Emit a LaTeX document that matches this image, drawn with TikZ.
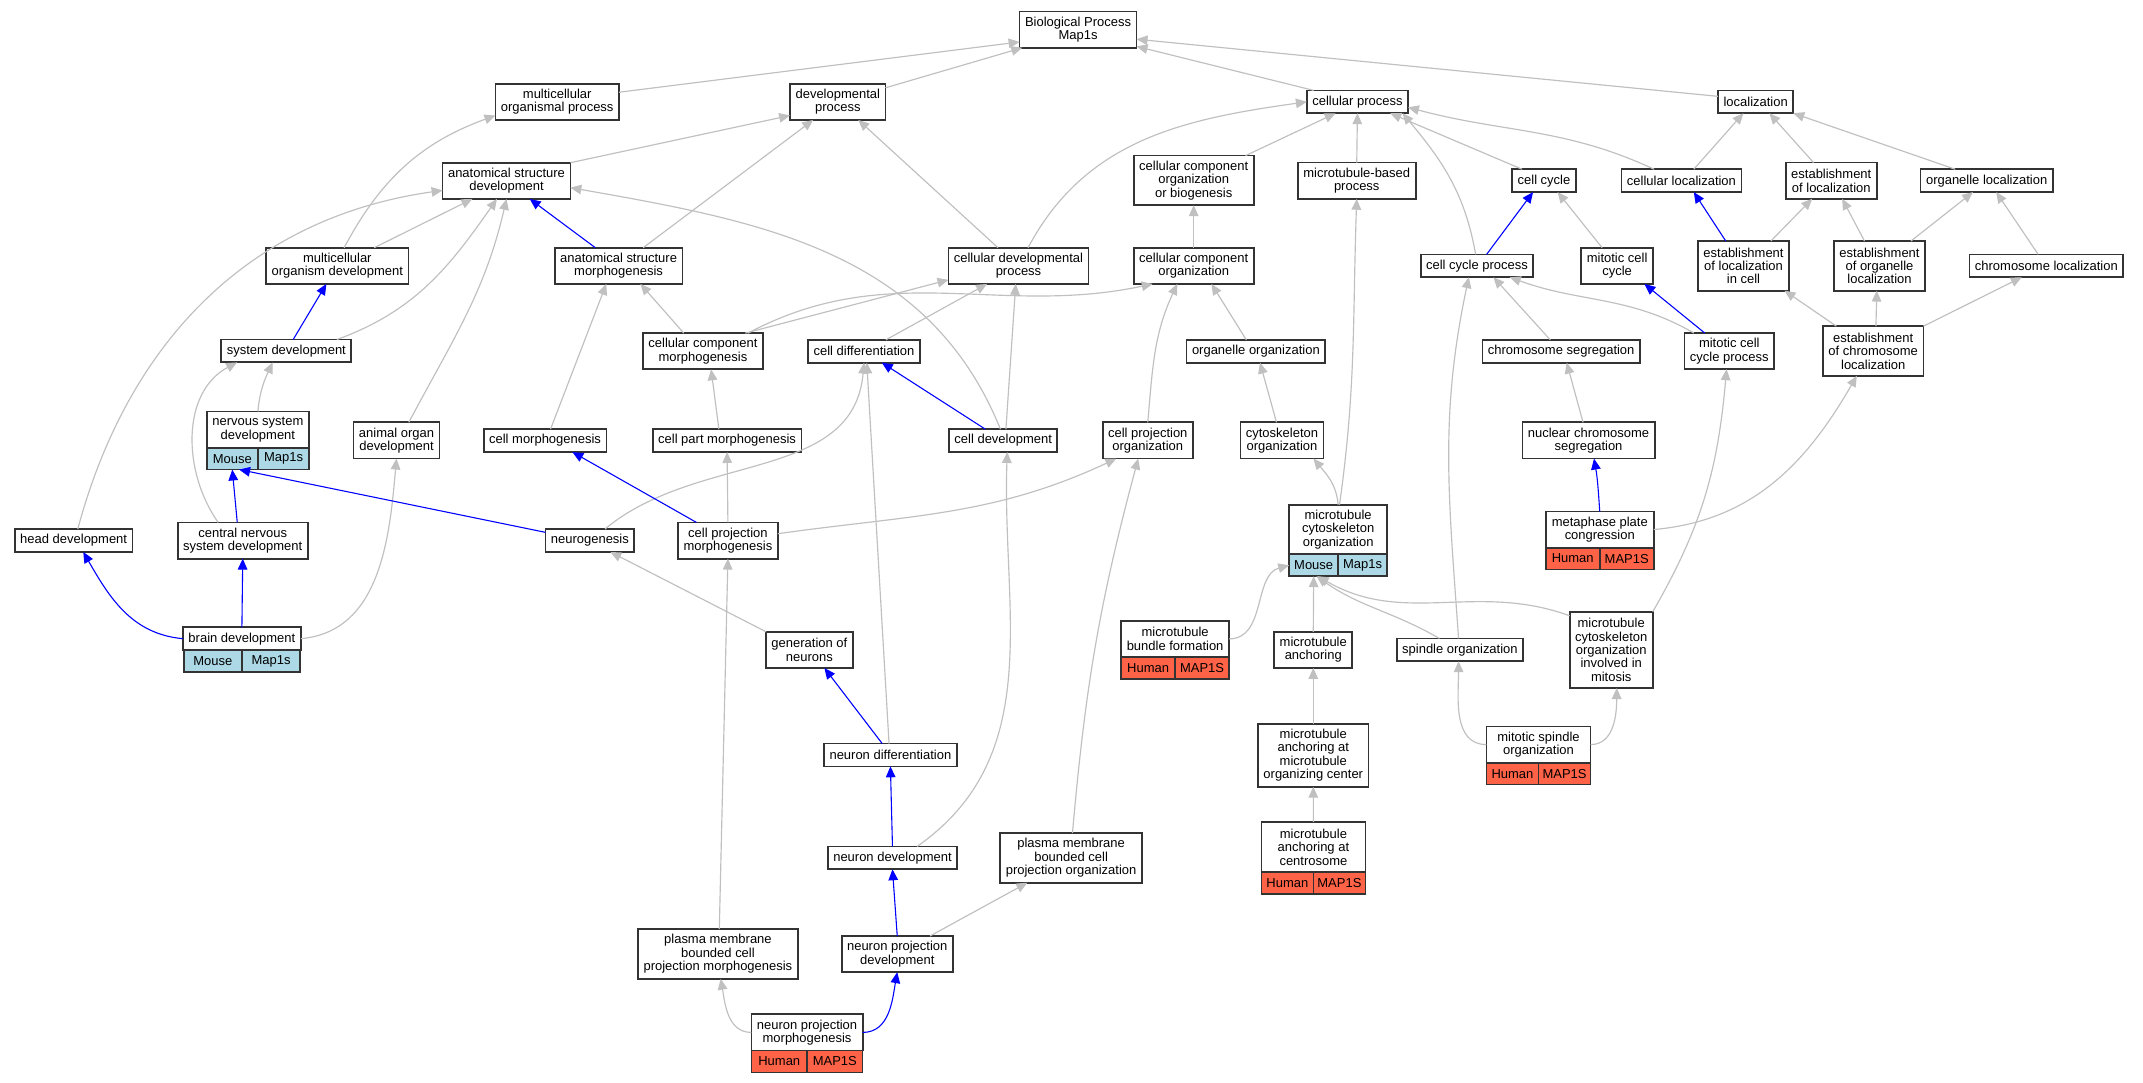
\documentclass[tikz,border=0pt]{standalone}
\usepackage{fontspec}
\setmainfont{Liberation Sans}
\usetikzlibrary{arrows.meta}
\definecolor{edgegray}{HTML}{C0C0C0}
\definecolor{genemouse}{HTML}{ADD8E6}
\definecolor{genehuman}{HTML}{FF6347}

\begin{document}
\begin{tikzpicture}[x=1pt, y=1pt,
  term/.style={draw=black!80, line width=1.3pt, fill=white, align=center, outer sep=0pt,
    font=\fontsize{9.5}{9.8}\selectfont, inner xsep=4pt, inner ysep=1pt},
  l1/.style={minimum height=16.7pt}, l2/.style={minimum height=26.5pt},
  l3/.style={minimum height=36.3pt}, l4/.style={minimum height=46.1pt},
  l5/.style={minimum height=55.9pt},
  cell/.style={term, minimum height=16pt, inner sep=0pt},
  mouse/.style={cell, fill=genemouse}, human/.style={cell, fill=genehuman},
  isa/.style={draw=edgegray, line width=0.85pt, -{Triangle[length=8pt,width=7pt]}},
  isab/.style={isa, draw=blue, line width=0.8pt}]
\fill[white] (0,0) rectangle (1568,-792);

% Top terms
\node[term, l2] (BP) at (788.8,-21.7) {Biological Process\\Map1s};
\node[term, l2] (mop) at (407.7,-74.5) {multicellular\\organismal process};
\node[term, l2] (devp) at (613,-74.5) {developmental\\process};
\node[term, l1] (cellp) at (993.2,-74.5) {cellular process};
\node[term, l1] (loc) at (1284.6,-74.5) {localization};

% Second level
\node[term, l2] (asd) at (370.6,-132.3) {anatomical structure\\development};
\node[term, l3] (ccob) at (873.4,-132) {cellular component\\organization\\or biogenesis};
\node[term, l2] (mtbp) at (992.7,-132.2) {microtubule-based\\process};
\node[term, l1] (cc) at (1129.7,-132.2) {cell cycle};
\node[term, l1] (cloc) at (1230.3,-132.2) {cellular localization};
\node[term, l2] (eloc) at (1339.9,-132.2) {establishment\\of localization};
\node[term, l1] (oloc) at (1453.6,-132.2) {organelle localization};

% Third level
\node[term, l2] (modev) at (246.8,-194.5) {multicellular\\organism development};
\node[term, l2] (asm) at (452.6,-194.5) {anatomical structure\\morphogenesis};
\node[term, l2] (cdp) at (745.2,-194.5) {cellular developmental\\process};
\node[term, l2] (cco) at (873.4,-194.5) {cellular component\\organization};
\node[term, l1] (ccp) at (1080.7,-194.5) {cell cycle process};
\node[term, l2] (mcc) at (1183.2,-194.5) {mitotic cell\\cycle};
\node[term, l3] (elic) at (1275.7,-194.5) {establishment\\of localization\\in cell};
\node[term, l3] (eol) at (1375.2,-194.5) {establishment\\of organelle\\localization};
\node[term, l1] (chl) at (1497.3,-194.5) {chromosome localization};

% Fourth level
\node[term, l1] (sysd) at (209.5,-256.8) {system development};
\node[term, l2] (ccm) at (514.3,-257) {cellular component\\morphogenesis};
\node[term, l1] (cdiff) at (632.2,-257) {cell differentiation};
\node[term, l1] (oorg) at (918.9,-257) {organelle organization};
\node[term, l1] (chseg) at (1142.3,-257) {chromosome segregation};
\node[term, l2] (mccp) at (1265.3,-256.9) {mitotic cell\\cycle process};
\node[term, l3] (ecl) at (1370.6,-256.8) {establishment\\of chromosome\\localization};

% Fifth level
\node[term, l2, minimum width=75pt] (nsd) at (188.7,-314.3) {nervous system\\development};
\node[mouse, minimum width=37.5pt, anchor=north east] (nsd-sp) at (nsd.south) {Mouse};
\node[mouse, minimum width=37.5pt, anchor=north west] (nsd-gn) at (nsd.south) {Map1s};
\node[term, l2] (aod) at (290.1,-322.3) {animal organ\\development};
\node[term, l1] (cmorph) at (398.8,-322.4) {cell morphogenesis};
\node[term, l1] (cpm) at (532,-322.4) {cell part morphogenesis};
\node[term, l1] (cdev) at (734,-322.4) {cell development};
\node[term, l2] (cpo) at (839.8,-322.3) {cell projection\\organization};
\node[term, l2] (cyto) at (938,-322.3) {cytoskeleton\\organization};
\node[term, l2] (ncs) at (1162.3,-322.3) {nuclear chromosome\\segregation};

% Sixth level
\node[term, l1] (headd) at (53.9,-395.5) {head development};
\node[term, l2] (cnsd) at (177.6,-395.5) {central nervous\\system development};
\node[term, l1] (neurog) at (431.6,-395.5) {neurogenesis};
\node[term, l2] (cprojm) at (532.6,-395.5) {cell projection\\morphogenesis};
\node[term, l3, minimum width=71.6pt] (mtco) at (979.1,-387.45) {microtubule\\cytoskeleton\\organization};
\node[mouse, minimum width=35.8pt, anchor=north east] (mtco-sp) at (mtco.south) {Mouse};
\node[mouse, minimum width=35.8pt, anchor=north west] (mtco-gn) at (mtco.south) {Map1s};
\node[term, l2, minimum width=79pt] (mpc) at (1170.5,-387.45) {metaphase plate\\congression};
\node[human, minimum width=39.5pt, anchor=north east] (mpc-sp) at (mpc.south) {Human};
\node[human, minimum width=39.5pt, anchor=north west] (mpc-gn) at (mpc.south) {MAP1S};

% Seventh level
\node[term, l1, minimum width=85.3pt] (braind) at (177,-467.3) {brain development};
\node[mouse, minimum width=42.65pt, anchor=north east] (braind-sp) at (braind.south) {Mouse};
\node[mouse, minimum width=42.65pt, anchor=north west] (braind-gn) at (braind.south) {Map1s};
\node[term, l2, minimum width=79pt] (mtbf) at (859.8,-467.45) {microtubule\\bundle formation};
\node[human, minimum width=39.5pt, anchor=north east] (mtbf-sp) at (mtbf.south) {Human};
\node[human, minimum width=39.5pt, anchor=north west] (mtbf-gn) at (mtbf.south) {MAP1S};
\node[term, l2] (genn) at (592.2,-475.5) {generation of\\neurons};
\node[term, l2] (mta) at (960.9,-475.5) {microtubule\\anchoring};
\node[term, l1] (spo) at (1068.2,-475.5) {spindle organization};
\node[term, l5] (mcoim) at (1178.9,-475.5) {microtubule\\cytoskeleton\\organization\\involved in\\mitosis};

% Eighth level
\node[term, l1] (nd) at (651.5,-552.4) {neuron differentiation};
\node[term, l4] (mtamoc) at (960.9,-552.6) {microtubule\\anchoring at\\microtubule\\organizing center};
\node[term, l2, minimum width=76.2pt] (mspo) at (1125.7,-544.8) {mitotic spindle\\organization};
\node[human, minimum width=38.1pt, anchor=north east] (mspo-sp) at (mspo.south) {Human};
\node[human, minimum width=38.1pt, anchor=north west] (mspo-gn) at (mspo.south) {MAP1S};

% Ninth level
\node[term, l1] (ndev) at (653,-627.7) {neuron development};
\node[term, l3] (pmbcpo) at (783.7,-627.7) {plasma membrane\\bounded cell\\projection organization};
\node[term, l3, minimum width=76.1pt] (mtac) at (961,-619.75) {microtubule\\anchoring at\\centrosome};
\node[human, minimum width=38.05pt, anchor=north east] (mtac-sp) at (mtac.south) {Human};
\node[human, minimum width=38.05pt, anchor=north west] (mtac-gn) at (mtac.south) {MAP1S};

% Bottom
\node[term, l3] (pmbcpm) at (525.3,-698) {plasma membrane\\bounded cell\\projection morphogenesis};
\node[term, l2] (npd) at (656.5,-698.1) {neuron projection\\development};
\node[term, l2, minimum width=81.3pt] (npm) at (590.5,-755.4) {neuron projection\\morphogenesis};
\node[human, minimum width=40.65pt, anchor=north east] (npm-sp) at (npm.south) {Human};
\node[human, minimum width=40.65pt, anchor=north west] (npm-gn) at (npm.south) {MAP1S};

% Gray is_a edges
\draw[isa] ([yshift=7pt]mop.east) -- ([yshift=-9pt]BP.west);
\draw[isa] ([yshift=-3pt]devp.north east) -- ([xshift=2pt]BP.south west);
\draw[isa] ([xshift=5pt]cellp.north west) -- ([yshift=1pt]BP.south east);
\draw[isa] ([yshift=4pt]loc.west) -- ([yshift=-7pt]BP.east);
\draw[isa] (asd.north east) -- ([yshift=-10pt]devp.west);
\draw[isa] ([xshift=5pt]modev.north) to[out=62,in=200] ([yshift=-10pt]mop.west);
\draw[isa] ([xshift=27pt]modev.north) -- ([xshift=-25pt]asd.south);
\draw[isa] ([xshift=37pt]sysd.north) to[out=20,in=235] ([xshift=-7pt]asd.south);
\draw[isa] ([xshift=9pt]aod.north) to[out=62,in=257] (asd.south);
\draw[isa] ([xshift=3pt]headd.north) to[out=75,in=188] ([yshift=-7pt]asd.west);
\draw[isa] ([xshift=18pt]asm.north) -- ([xshift=-18pt]devp.south);
\draw[isa] ([xshift=-2pt]cdev.north) to[out=112,in=-10] ([yshift=-5pt]asd.east);
\draw[isa] ([xshift=-15pt]cdp.north) -- ([xshift=15pt]devp.south);
\draw[isa] ([xshift=7pt]cdp.north) to[out=62,in=188] (cellp.west);
\draw[isa] ([xshift=38pt]ccob.north) -- ([xshift=-16pt]cellp.south);
\draw[isa] (mtbp.north) -- (cellp.south);
\draw[isa] ([xshift=-16pt]cc.north) -- ([xshift=24pt]cellp.south);
\draw[isa] ([xshift=-20pt]cloc.north) to[out=155,in=-15] ([yshift=-4pt]cellp.east);
\draw[isa] ([xshift=-1pt]ccp.north) to[out=100,in=-50] ([xshift=-4pt]cellp.south east);
\draw[isa] ([xshift=9pt]cloc.north) -- ([xshift=-9pt]loc.south);
\draw[isa] ([xshift=-13pt]eloc.north) -- ([xshift=10pt]loc.south);
\draw[isa] ([xshift=-23pt]oloc.north) -- (loc.south east);
\draw[isa] ([xshift=-11pt]mcc.north) -- ([xshift=10pt]cc.south);
\draw[isa] ([xshift=20pt]elic.north) -- ([xshift=-14pt]eloc.south);
\draw[isa] ([xshift=-11pt]eol.north) -- ([xshift=8pt]eloc.south);
\draw[isa] ([xshift=23pt]eol.north) -- ([xshift=-10pt]oloc.south);
\draw[isa] ([xshift=-6pt]chl.north) -- ([xshift=7pt]oloc.south);
\draw[isa] ([xshift=-27pt]ecl.north) -- ([xshift=30pt]elic.south);
\draw[isa] ([xshift=2pt]ecl.north) -- ([xshift=-2pt]eol.south);
\draw[isa] (ecl.north east) -- ([xshift=-18pt]chl.south);
\draw[isa] (cco.north) -- (ccob.south);
\draw[isa] ([xshift=-14pt]ccm.north) -- ([xshift=16pt]asm.south);
\draw[isa] ([xshift=31pt]ccm.north) -- ([yshift=3pt]cdp.south west);
\draw[isa] ([xshift=33pt]ccm.north) to[out=28,in=192] ([xshift=-30pt]cco.south);
\draw[isa] ([xshift=16pt]cdiff.north) -- ([xshift=-23pt]cdp.south);
\draw[isa] ([xshift=2pt]cdev.north) -- ([xshift=-2pt]cdp.south);
\draw[isa] ([xshift=-7pt]oorg.north) -- ([xshift=13pt]cco.south);
\draw[isa] ([xshift=4pt]cmorph.north) -- ([xshift=-9pt]asm.south);
\draw[isa] ([xshift=-6pt]cpm.north) -- ([xshift=6pt]ccm.south);
\draw[isa] (cpo.north) to[out=85,in=245] ([xshift=-12pt]cco.south);
\draw[isa] ([xshift=-4pt]cyto.north) -- ([xshift=3pt]oorg.south);
\draw[isa] (nsd.north) to[out=85,in=245] ([xshift=-10pt]sysd.south);
\draw[isa] ([xshift=-18pt]cnsd.north) to[out=125,in=208] ([xshift=-36pt]sysd.south);
\draw[isa] (braind.east) to[out=5,in=265] (aod.south);
\draw[isa] (cprojm.north) -- (cpm.south);
\draw[isa] ([yshift=5pt]cprojm.east) to[out=8,in=205] ([xshift=-23pt]cpo.south);
\draw[isa] ([xshift=11pt]neurog.north) to[out=40,in=265] (cdiff.south);
\draw[isa] (genn.north west) -- ([xshift=15pt]neurog.south);
\draw[isa] ([xshift=-1pt]nd.north) -- ([xshift=2pt]cdiff.south);
\draw[isa] ([xshift=18pt]ndev.north) to[out=35,in=268] ([xshift=3pt]cdev.south);
\draw[isa] ([xshift=24pt]npd.north) -- ([xshift=-32pt]pmbcpo.south);
\draw[isa] ([xshift=1pt]pmbcpo.north) to[out=85,in=255] ([xshift=-7pt]cpo.south);
\draw[isa] ([xshift=1pt]pmbcpm.north) -- (cprojm.south);
\draw[isa] (npm.west) to[out=180,in=-80] ([xshift=2pt]pmbcpm.south);
\draw[isa] (mtco.north) to[out=95,in=-50] ([xshift=23pt]cyto.south);
\draw[isa] ([xshift=1pt]mtco.north) to[out=82,in=268] (mtbp.south);
\draw[isa] (mtbf.east) to[out=0,in=195] (mtco-sp.west);
\draw[isa] (mta.north) -- (mtco-sp.south);
\draw[isa] ([xshift=-15pt]spo.north) to[out=150,in=-35] ([xshift=2pt]mtco-sp.south);
\draw[isa] ([yshift=-3pt]mcoim.north west) to[out=160,in=-30] ([xshift=3pt]mtco-sp.south);
\draw[isa] ([xshift=-1pt]spo.north) to[out=94,in=258] ([xshift=-6pt]ccp.south);
\draw[isa] (mcoim.north east) to[out=60,in=265] ([xshift=-2pt]mccp.south);
\draw[isa] (mtamoc.north) -- (mta.south);
\draw[isa] (mtac.north) -- (mtamoc.south);
\draw[isa] (mspo.west) to[out=180,in=270] ([xshift=-1pt]spo.south);
\draw[isa] (mspo.east) to[out=0,in=270] ([xshift=4pt]mcoim.south);
\draw[isa] ([xshift=-8pt]chseg.north) -- ([xshift=12pt]ccp.south);
\draw[isa] ([xshift=-26pt]mccp.north) to[out=150,in=-20] ([xshift=24pt]ccp.south);
\draw[isa] ([xshift=-4pt]ncs.north) -- ([xshift=4pt]chseg.south);
\draw[isa] (mpc.east) to[out=5,in=240] ([xshift=-12pt]ecl.south);

% Blue edges
\draw[isab] ([xshift=-17pt]asm.north) -- ([xshift=17pt]asd.south);
\draw[isab] ([xshift=5pt]sysd.north) -- ([xshift=-8pt]modev.south);
\draw[isab] ([xshift=-4pt]cnsd.north) -- (nsd-sp.south);
\draw[isab] ([yshift=6pt]neurog.west) -- ([xshift=5pt]nsd-sp.south);
\draw[isab] (braind.north) -- (cnsd.south);
\draw[isab] (braind.west) to[out=175,in=-60] ([xshift=7pt]headd.south);
\draw[isab] ([xshift=-23pt]cprojm.north) -- ([xshift=20pt]cmorph.south);
\draw[isab] ([xshift=-13pt]cdev.north) -- ([xshift=13pt]cdiff.south);
\draw[isab] ([xshift=7pt]ccp.north) -- ([xshift=-8pt]cc.south);
\draw[isab] ([xshift=-13pt]elic.north) -- ([xshift=9pt]cloc.south);
\draw[isab] ([xshift=-18pt]mccp.north) -- ([xshift=20pt]mcc.south);
\draw[isab] (mpc.north) to[out=94,in=280] ([xshift=4pt]ncs.south);
\draw[isab] ([xshift=-6pt]nd.north) -- ([xshift=11pt]genn.south);
\draw[isab] (ndev.north) -- (nd.south);
\draw[isab] (npd.north) -- (ndev.south);
\draw[isab] (npm.east) to[out=0,in=260] (npd.south);
\end{tikzpicture}
\end{document}
